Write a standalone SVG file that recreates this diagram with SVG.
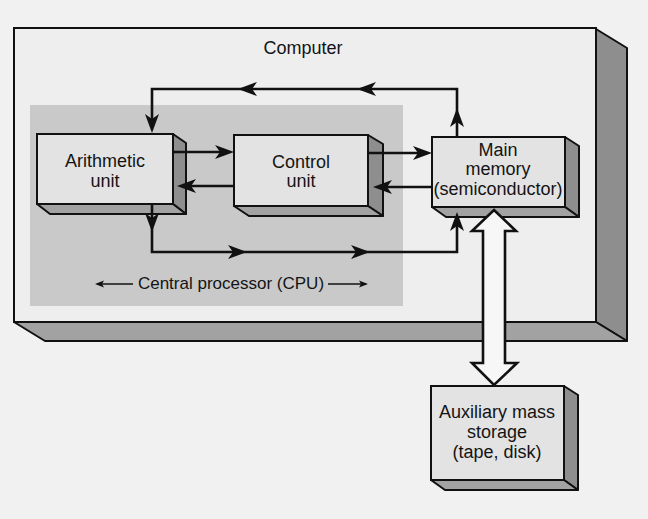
<svg xmlns="http://www.w3.org/2000/svg" xmlns:xlink="http://www.w3.org/1999/xlink" width="648" height="519" viewBox="0 0 648 519">
<style>
  .t{font-family:"Liberation Sans",Arial,sans-serif;font-size:18px;fill:#141414;text-anchor:middle}
  .s{font-size:17px}
  .front{fill:#e3e3e3;stroke:#111;stroke-width:2}
  .side{fill:#8e8e8e;stroke:#111;stroke-width:2;stroke-linejoin:round}
  .bot{fill:#a2a2a2;stroke:#111;stroke-width:2;stroke-linejoin:round}
  .ln{fill:none;stroke:#111;stroke-width:2.6}
  .thin{fill:none;stroke:#111;stroke-width:1.5}
</style>
<defs>
  <path id="ah" d="M0,0 L-19,-7 L-14,0 L-19,7 Z" fill="#111"/>
  <path id="sah" d="M0,0 L-9,-3.5 L-7,0 L-9,3.5 Z" fill="#111"/>
</defs>
<rect x="0" y="0" width="648" height="519" fill="#f1f1f1"/>

<g id="computer">
  <polygon class="side" points="596,29 627,48 627,341 596,322"/>
  <polygon class="bot" points="14,322 596,322 627,341 45,341"/>
  <rect x="14" y="28" width="582" height="294" fill="#eeeeee" stroke="#111" stroke-width="2"/>
  <text class="t" x="303" y="54">Computer</text>
</g>

<g id="cpu">
  <rect x="30" y="105" width="373" height="201" fill="#c9c9c9"/>
  <text class="t s" x="231" y="289">Central processor (CPU)</text>
  <path class="thin" d="M133,284 H97"/>
  <use xlink:href="#sah" transform="translate(95,284) rotate(180)"/>
  <path class="thin" d="M328,284 H366"/>
  <use xlink:href="#sah" transform="translate(368,284)"/>
</g>

<g id="arithmetic">
  <polygon class="side" points="173,134 186,143 186,214 173,204"/>
  <polygon class="bot" points="37,204 173,204 186,214 50,214"/>
  <rect class="front" x="37" y="134" width="136" height="70"/>
  <text class="t" x="105" y="167">Arithmetic</text>
  <text class="t" x="105" y="187">unit</text>
</g>

<g id="control">
  <polygon class="side" points="368,135 383,144 383,216 368,206"/>
  <polygon class="bot" points="234,206 368,206 383,216 249,216"/>
  <rect class="front" x="234" y="135" width="134" height="71"/>
  <text class="t" x="301" y="168">Control</text>
  <text class="t" x="301" y="187">unit</text>
</g>

<g id="memory">
  <polygon class="side" points="565,137 579,146 579,217 565,207"/>
  <polygon class="bot" points="432,207 565,207 579,217 446,217"/>
  <rect class="front" x="432" y="137" width="133" height="70"/>
  <text class="t" x="498" y="156">Main</text>
  <text class="t" x="498" y="175">memory</text>
  <text class="t" x="498" y="195">(semiconductor)</text>
</g>

<g id="connectors">
  <path class="ln" d="M457,137 V89 H152 V125"/>
  <use xlink:href="#ah" transform="translate(457,108) rotate(-90)"/>
  <use xlink:href="#ah" transform="translate(357,89) rotate(180)"/>
  <use xlink:href="#ah" transform="translate(238,89) rotate(180)"/>
  <use xlink:href="#ah" transform="translate(152,133) rotate(90)"/>

  <path class="ln" d="M152,204 V252 H457 V220"/>
  <use xlink:href="#ah" transform="translate(152,232) rotate(90)"/>
  <use xlink:href="#ah" transform="translate(247,252)"/>
  <use xlink:href="#ah" transform="translate(370,252)"/>
  <use xlink:href="#ah" transform="translate(457,212) rotate(-90)"/>

  <path class="ln" d="M173,152 H226"/>
  <use xlink:href="#ah" transform="translate(234,152)"/>
  <path class="ln" d="M234,186 H185"/>
  <use xlink:href="#ah" transform="translate(177,186) rotate(180)"/>
  <path class="ln" d="M368,153 H424"/>
  <use xlink:href="#ah" transform="translate(432,153)"/>
  <path class="ln" d="M432,187 H381"/>
  <use xlink:href="#ah" transform="translate(373,187) rotate(180)"/>

  <polygon points="494,210 516,231 505,231 505,363 517,363 494,385 472,363 483,363 483,231 472,231" fill="#f7f7f7" stroke="#111" stroke-width="2.6" stroke-linejoin="miter"/>
</g>

<g id="auxiliary">
  <polygon class="side" points="564,386 578,395 578,490 564,480"/>
  <polygon class="bot" points="431,480 564,480 578,490 445,490"/>
  <rect class="front" x="431" y="386" width="133" height="94"/>
  <text class="t" x="497" y="418">Auxiliary mass</text>
  <text class="t" x="497" y="438">storage</text>
  <text class="t" x="497" y="458">(tape, disk)</text>
</g>
</svg>
